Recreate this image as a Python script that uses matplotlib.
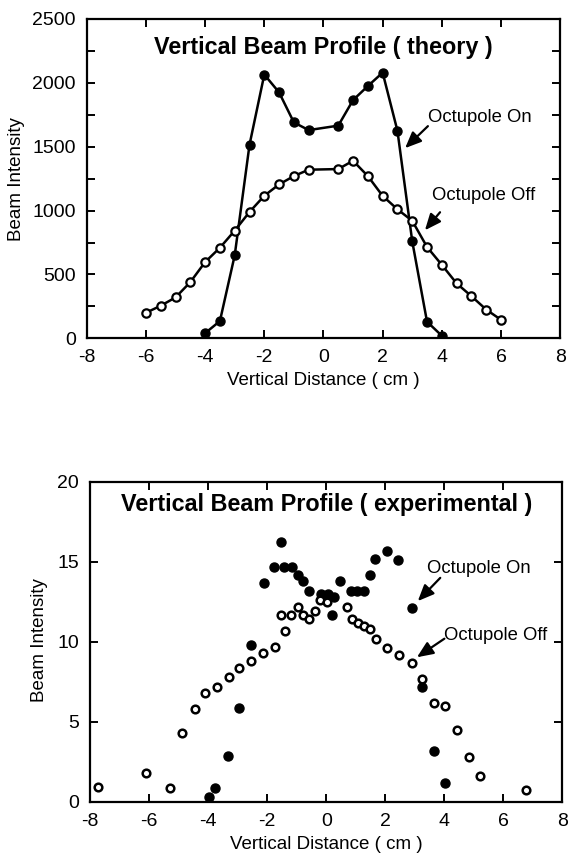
import numpy as np
import matplotlib
matplotlib.use('Agg')
import matplotlib.pyplot as plt

plt.rcParams['font.family'] = ['Liberation Sans Narrow', 'Liberation Sans', 'DejaVu Sans']
plt.rcParams['axes.unicode_minus'] = False

# theory, octupole on / off
th_on_x = [-4, -3.5, -3, -2.5, -2, -1.5, -1, -0.5, 0.5, 1, 1.5, 2, 2.5, 3, 3.5, 4]
th_on_y = [40, 135, 650, 1515, 2065, 1925, 1690, 1630, 1665, 1865, 1975, 2080, 1625, 760, 130, 20]
th_off_x = [-6, -5.5, -5, -4.5, -4, -3.5, -3, -2.5, -2, -1.5, -1, -0.5, 0.5, 1, 1.5,
            2, 2.5, 3, 3.5, 4, 4.5, 5, 5.5, 6]
th_off_y = [200, 255, 320, 440, 597, 709, 843, 989, 1116, 1205, 1270, 1320, 1325, 1390, 1270,
            1115, 1010, 920, 715, 575, 430, 330, 225, 145]

# experimental, octupole on / off
ex_on_x = [-3.97, -3.77, -3.33, -2.96, -2.54, -2.12, -1.78, -1.55, -1.43, -1.17, -0.96, -0.78,
           -0.6, -0.17, 0.05, 0.27, 0.2, 0.48, 0.83, 1.05, 1.27, 1.47, 1.65, 2.06, 2.43, 2.9,
           3.25, 3.66, 4.03]
ex_on_y = [0.3, 0.9, 2.9, 5.9, 9.8, 13.7, 14.7, 16.25, 14.7, 14.7, 14.2, 13.8,
           13.2, 13.0, 13.0, 12.8, 11.7, 13.8, 13.2, 13.2, 13.2, 14.15, 15.2, 15.65, 15.1, 12.1,
           7.2, 3.2, 1.2]
ex_off_x = [-7.75, -6.1, -5.3, -4.9, -4.45, -4.1, -3.7, -3.3, -2.95, -2.55, -2.15, -1.75, -1.4,
            -1.55, -1.2, -0.95, -0.8, -0.6, -0.4, -0.22, 0.02, 0.7, 0.87, 1.08, 1.27, 1.48,
            1.7, 2.07, 2.47, 2.9, 3.25, 3.65, 4.03, 4.43, 4.85, 5.2, 6.75]
ex_off_y = [0.95, 1.8, 0.9, 4.3, 5.8, 6.8, 7.2, 7.8, 8.4, 8.8, 9.3, 9.7, 10.7,
            11.7, 11.7, 12.2, 11.7, 11.4, 11.9, 12.6, 12.5, 12.2, 11.4, 11.2, 11.0, 10.8,
            10.2, 9.6, 9.2, 8.7, 7.7, 6.2, 6.0, 4.5, 2.8, 1.6, 0.75]

fig = plt.figure(figsize=(5.71, 8.63), dpi=100)
ax1 = fig.add_axes([0.152, 0.608, 0.829, 0.370])
ax2 = fig.add_axes([0.158, 0.0707, 0.827, 0.371])

arrow = dict(arrowstyle='-|>,head_length=0.7,head_width=0.3', color='black', lw=1.6,
             mutation_scale=14, shrinkA=0, shrinkB=0)


def style(ax):
    for s in ax.spines.values():
        s.set_linewidth(1.6)
    ax.tick_params(direction='in', length=6, width=1.4, top=True, right=True,
                   labelsize=14, pad=8)
    ax.tick_params(which='minor', direction='in', length=6, width=1.4, top=True, right=True)
    ax.set_xlim(-8, 8)
    ax.set_xticks(np.arange(-8, 9, 2))


# top panel
ax1.plot(th_on_x, th_on_y, '-o', color='black', lw=1.8, ms=6.5)
ax1.plot(th_off_x, th_off_y, '-o', color='black', lw=1.8, ms=6, mfc='white', mew=1.6)
style(ax1)
ax1.set_ylim(0, 2500)
ax1.set_yticks(np.arange(0, 2501, 500))
ax1.set_yticks(np.arange(250, 2500, 500), minor=True)
ax1.text(0, 2280, 'Vertical Beam Profile ( theory )', ha='center', va='center',
         fontsize=16.8, fontweight='bold')
ax1.set_ylabel('Beam Intensity', fontsize=13.5)
ax1.set_xlabel('Vertical Distance ( cm )', fontsize=13.5)
ax1.yaxis.set_label_coords(-0.131, 0.5)
ax1.xaxis.set_label_coords(0.5, -0.107)
ax1.text(5.29, 1732, 'Octupole On', fontsize=13.3, ha='center', va='center')
ax1.annotate('', xy=(2.76, 1489), xytext=(3.53, 1661), arrowprops=arrow)
ax1.text(5.4, 1121, 'Octupole Off', fontsize=13.3, ha='center', va='center')
ax1.annotate('', xy=(3.43, 846), xytext=(3.94, 987), arrowprops=arrow)

# bottom panel
ax2.plot(ex_on_x, ex_on_y, 'o', color='black', ms=6.5, ls='none')
ax2.plot(ex_off_x, ex_off_y, 'o', color='black', ms=5.5, mfc='white', mew=1.8, ls='none')
style(ax2)
ax2.set_ylim(0, 20)
ax2.set_yticks(np.arange(0, 21, 5))
ax2.text(0, 18.6, 'Vertical Beam Profile ( experimental )', ha='center', va='center',
         fontsize=16.8, fontweight='bold')
ax2.set_ylabel('Beam Intensity', fontsize=13.5)
ax2.set_xlabel('Vertical Distance ( cm )', fontsize=13.5)
ax2.yaxis.set_label_coords(-0.089, 0.506)
ax2.xaxis.set_label_coords(0.5, -0.106)
ax2.text(5.18, 14.57, 'Octupole On', fontsize=13.3, ha='center', va='center')
ax2.annotate('', xy=(3.1, 12.55), xytext=(3.86, 14.0), arrowprops=arrow)
ax2.text(5.72, 10.43, 'Octupole Off', fontsize=13.3, ha='center', va='center')
ax2.annotate('', xy=(3.07, 9.04), xytext=(4.0, 10.2), arrowprops=arrow)

fig.savefig('out.png', dpi=100)
